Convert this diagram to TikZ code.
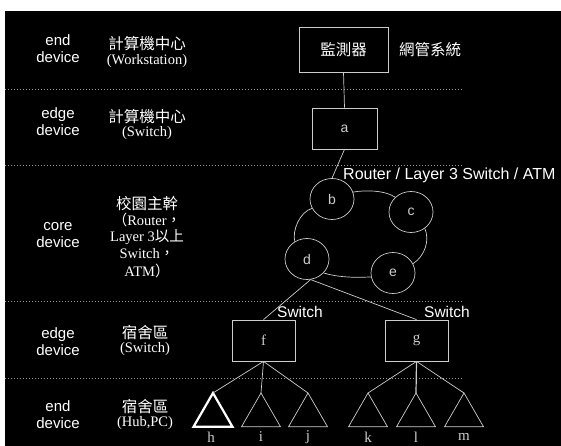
\documentclass[tikz,border=0pt]{standalone}
\usepackage{fontspec}
\setmainfont{Liberation Serif}
\newfontfamily\sansf{Liberation Sans}
\newfontfamily\serf{Liberation Serif}
\newfontfamily\cjk{Noto Sans CJK TC}
\usetikzlibrary{shapes.geometric}
\definecolor{ln}{RGB}{205,205,205}
\definecolor{dotc}{RGB}{150,150,150}
\begin{document}
\begin{tikzpicture}[x=1pt,y=-1pt,
  lvl/.style={text=white,font=\sansf\fontsize{15}{17}\selectfont,align=center,inner sep=0pt},
  zh/.style={text=white,font=\cjk\fontsize{15.5}{17}\selectfont,inner sep=0pt},
  lat/.style={text=white,font=\serf\fontsize{14.5}{17}\selectfont,inner sep=0pt},
  box/.style={draw=ln,line width=0.8pt,inner sep=0pt},
  ring/.style={draw=ln,line width=0.7pt,ellipse,minimum width=44pt,minimum height=41pt,inner sep=0pt,text=ln,font=\sansf\fontsize{14}{14}\selectfont},
  tri/.style={draw=ln,line width=0.7pt,regular polygon,regular polygon sides=3,minimum size=45pt,inner sep=0pt,outer sep=0pt},
  sepline/.style={draw=dotc,line width=0.6pt,dash pattern=on 0.8pt off 2.2pt},
  wire/.style={draw=ln,line width=0.7pt},
  tag/.style={text=white,font=\sansf\fontsize{15.5}{17}\selectfont,inner sep=0pt}]
% background
\fill[white] (0,0) rectangle (561,446);
\fill[black] (5,11) rectangle (561,446);
\useasboundingbox (0,0) rectangle (561,446);
% separators
\coordinate (s1a) at (5,89);   \coordinate (s1b) at (463,89);
\coordinate (s2a) at (5,165);  \coordinate (s2b) at (463,165);
\coordinate (s3a) at (5,301);  \coordinate (s3b) at (463,301);
\coordinate (s4a) at (5,378);  \coordinate (s4b) at (463,378);
\draw[sepline] (s1a) -- (s1b);
\draw[sepline] (s2a) -- (s2b);
\draw[sepline] (s3a) -- (s3b);
\draw[sepline] (s4a) -- (s4b);
% left level labels
\node[lvl] (L1) at (58,48.5) {end\\device};
\node[lvl] (L2) at (58,121.5) {edge\\device};
\node[lvl] (L3) at (58,235) {core\\device};
\node[lvl] (L4) at (58,341.5) {edge\\device};
\node[lvl] (L5) at (58,414.5) {end\\device};
% chinese column
\node[zh] (z1a) at (147,44) {計算機中心};
\node[lat] (z1b) at (147,61) {(Workstation)};
\node[zh] (z2a) at (147,117) {計算機中心};
\node[lat] (z2b) at (147,133) {(Switch)};
\node[zh] (z3a) at (147,203) {校園主幹};
\node[lat] (z3b) at (147,220) {{\cjk （}Router{\cjk ，}};
\node[lat] (z3c) at (147,237) {Layer 3{\cjk 以上}};
\node[lat] (z3d) at (147,254) {Switch{\cjk ，}};
\node[lat] (z3e) at (147,271) {ATM{\cjk ）}};
\node[zh] (z4a) at (145,333) {宿舍區};
\node[lat] (z4b) at (145,349) {(Switch)};
\node[zh] (z5a) at (145,407) {宿舍區};
\node[lat] (z5b) at (145,423) {(Hub,PC)};
% top
\node[box,minimum width=89pt,minimum height=45pt,text=white,font=\cjk\fontsize{15.5}{17}\selectfont] (mon) at (343.5,49.5) {監測器};
\node[zh] (nms) at (430,50) {網管系統};
\node[box,minimum width=65pt,minimum height=41pt,text=ln,font=\sansf\fontsize{14}{14}\selectfont] (a) at (344.5,128.5) {a};
% core ring
\node[ring] (b) at (332,199) {b};
\node[ring] (c) at (411,212) {c};
\node[ring] (d) at (307,259) {d};
\node[ring] (e) at (393,273) {e};
\node[tag,anchor=west,font=\sansf\fontsize{16}{17}\selectfont] (rt) at (343,175) {Router / Layer 3 Switch / ATM};
% edge switches
\node[box,minimum width=63pt,minimum height=41pt,text=ln,font=\serf\fontsize{15}{15}\selectfont] (f) at (263.5,340.5) {f};
\node[box,minimum width=63pt,minimum height=41pt,text=ln,font=\serf\fontsize{15}{15}\selectfont] (g) at (416.5,340.5) {g};
\node[tag] (swf) at (300,312) {Switch};
\node[tag] (swg) at (447,312) {Switch};
% triangles
\node[tri,draw=white,line width=2.2pt] (h) at (213,415.5) {};
\node[tri] (i) at (261,415.5) {};
\node[tri] (j) at (308,415.5) {};
\node[tri] (k) at (368,415.5) {};
\node[tri] (l) at (416,415.5) {};
\node[tri] (m) at (464,415.5) {};
\foreach \t/\x in {h/211,i/261,j/308,k/368,l/416,m/464}{
  \node[lat,text=ln,font=\serf\fontsize{15}{15}\selectfont] (lab\t) at (\x,437) {\t};
}
% connectors
\draw[wire] (mon.south) -- (a.north);
\draw[wire] (a.south) -- (b.north);
\draw[wire] (b.18) .. controls (364,190) and (385,190) .. (c.137);
\draw[wire] (b.205) .. controls (300,212) and (292,230) .. (d.125);
\draw[wire] (c.-50) .. controls (430,240) and (425,256) .. (e.25);
\draw[wire] (d.-40) .. controls (336,277) and (355,278) .. (e.190);
\draw[wire] (d.-80) -- (f.north);
\draw[wire] (d.-80) -- (g.north);
\draw[wire] (f.south) -- (h.corner 1);
\draw[wire] (f.south) -- (i.corner 1);
\draw[wire] (f.south) -- (j.corner 1);
\draw[wire] (g.south) -- (k.corner 1);
\draw[wire,line width=1.2pt] (g.south) -- (l.corner 1);
\draw[wire] (g.south) -- (m.corner 1);
\end{tikzpicture}
\end{document}
